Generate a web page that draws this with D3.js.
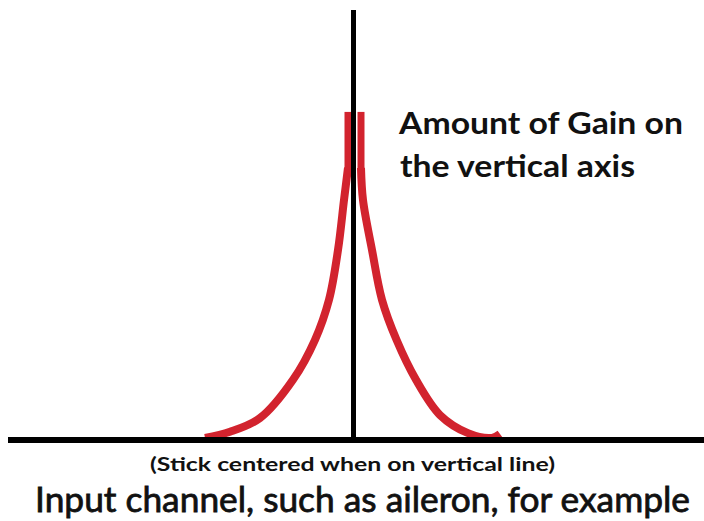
<!DOCTYPE html>
<html>
<head>
<meta charset="utf-8">
<script src="https://cdn.jsdelivr.net/npm/d3@7"></script>
<style>
  html, body { margin: 0; padding: 0; background: #fff; }
  svg { display: block; }
</style>
</head>
<body>
<svg id="chart" width="704" height="521"></svg>
<script>
// Input (stick position, % of travel) and gain (%) for each branch of the curve
const inputLeft  = [-1.57, -2.71, -4.42, -6.99, -10.98, -17.26, -26.68, -35.24, -42.37];
const gainLeft   = [63.3, 55.8, 44.2, 32.6, 23.3, 14.0, 5.1, 1.9, 0.5];
const inputRight = [2.14, 2.71, 5.28, 8.13, 12.27, 17.83, 24.68, 32.67, 39.51, 41.80];
const gainRight  = [63.3, 55.8, 44.2, 32.6, 23.3, 14.0, 5.8, 1.6, 0.5, 1.4];
// Flat-top section near centre (max gain)
const peakInput = [-1.57, 2.14];
const peakGain  = [63.3, 76.3];

const labelGain = ["Amount of Gain on", "the vertical axis"];
const labelNote = "(Stick centered when on vertical line)";
const labelInput = "Input channel, such as aileron, for example";

const svg = d3.select("#chart");
const x = d3.scaleLinear().domain([-100, 100]).range([3, 704]);
const y = d3.scaleLinear().domain([0, 100]).range([440, 10]);
const red = "#d2232e";

const line = d3.line()
  .x(d => x(d[0]))
  .y(d => y(d[1]))
  .curve(d3.curveCatmullRom.alpha(0.5));

const left = inputLeft.map((v, i) => [v, gainLeft[i]]);
const right = inputRight.map((v, i) => [v, gainRight[i]]);

svg.selectAll("path.gain")
  .data([left, right])
  .join("path")
  .attr("class", "gain")
  .attr("d", line)
  .attr("fill", "none")
  .attr("stroke", red)
  .attr("stroke-width", 8)
  .attr("stroke-linecap", "butt");

svg.selectAll("line.peak")
  .data(peakInput)
  .join("line")
  .attr("class", "peak")
  .attr("x1", d => x(d)).attr("x2", d => x(d))
  .attr("y1", y(peakGain[0]) + 2).attr("y2", y(peakGain[1]))
  .attr("stroke", red)
  .attr("stroke-width", 7);

// Axes
svg.append("line")
  .attr("x1", x(0)).attr("x2", x(0))
  .attr("y1", y(100)).attr("y2", y(0))
  .attr("stroke", "#000").attr("stroke-width", 5);

svg.append("line")
  .attr("x1", 8).attr("x2", 704)
  .attr("y1", y(0)).attr("y2", y(0))
  .attr("stroke", "#000").attr("stroke-width", 6);

const font = "Lato, 'Open Sans', sans-serif";

function fitText(sel, w) {
  sel.attr("textLength", w).attr("lengthAdjust", "spacingAndGlyphs");
}

svg.append("text")
  .attr("x", 399).attr("y", 134)
  .attr("font-family", font).attr("font-weight", 700).attr("font-size", 30)
  .attr("fill", "#111")
  .text(labelGain[0]).call(fitText, 284);

svg.append("text")
  .attr("x", 400).attr("y", 177)
  .attr("font-family", font).attr("font-weight", 700).attr("font-size", 30)
  .attr("fill", "#111")
  .text(labelGain[1]).call(fitText, 235);

svg.append("text")
  .attr("x", 150).attr("y", 471)
  .attr("font-family", font).attr("font-weight", 700).attr("font-size", 19)
  .attr("fill", "#111")
  .text(labelNote).call(fitText, 405);

svg.append("text")
  .attr("x", 35).attr("y", 512)
  .attr("font-family", font).attr("font-weight", 400).attr("font-size", 35)
  .attr("fill", "#111")
  .attr("stroke", "#111").attr("stroke-width", 0.8)
  .text(labelInput).call(fitText, 655);
</script>
</body>
</html>
